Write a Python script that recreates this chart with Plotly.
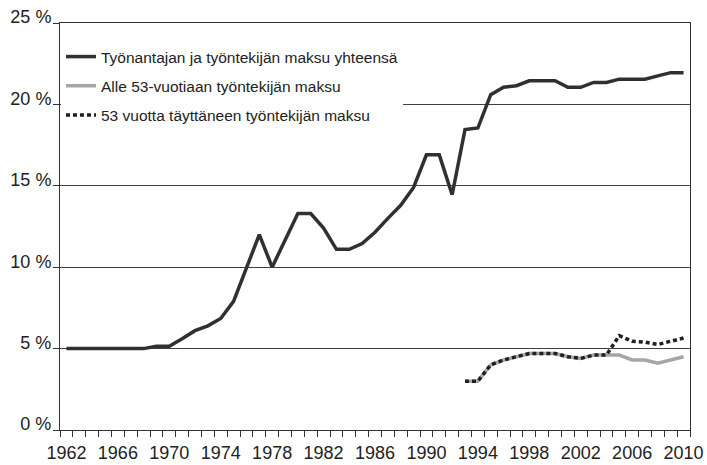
import plotly.graph_objects as go

years = list(range(1962, 2011))

total = [5.0, 5.0, 5.0, 5.0, 5.0, 5.0, 5.0, 5.15, 5.15, 5.6, 6.1, 6.4, 6.85, 7.9,
         9.95, 12.0, 10.0, 11.7, 13.3, 13.3, 12.4, 11.1, 11.1, 11.45, 12.15, 13.0,
         13.8, 14.9, 16.9, 16.9, 14.45, 18.45, 18.55, 20.6, 21.05, 21.15, 21.45,
         21.45, 21.45, 21.05, 21.05, 21.35, 21.35, 21.55, 21.55, 21.55, 21.75,
         21.95, 21.95]

sub_years = list(range(1993, 2011))
under53 = [3.0, 3.0, 4.0, 4.3, 4.5, 4.7, 4.7, 4.7, 4.5, 4.4, 4.6, 4.6,
           4.6, 4.3, 4.3, 4.1, 4.3, 4.5]
over53 = [3.0, 3.0, 4.0, 4.3, 4.5, 4.7, 4.7, 4.7, 4.5, 4.4, 4.6, 4.6,
          5.8, 5.45, 5.4, 5.25, 5.45, 5.65]

names = ["Työnantajan ja työntekijän maksu yhteensä",
         "Alle 53-vuotiaan työntekijän maksu",
         "53 vuotta täyttäneen työntekijän maksu"]

y_ticks = [0, 5, 10, 15, 20, 25]
x_label_years = list(range(1962, 2011, 4))

FONT = "Liberation Sans, Arial, sans-serif"

fig = go.Figure()
fig.add_trace(go.Scatter(x=years, y=total, mode="lines", name=names[0],
                         legendgroup="a",
                         line=dict(color="#303030", width=3.5)))
fig.add_trace(go.Scatter(x=sub_years, y=under53, mode="lines", name=names[1],
                         legendgroup="b",
                         line=dict(color="#a6a6a6", width=3.5)))
fig.add_trace(go.Scatter(x=sub_years, y=over53, mode="lines", name=names[2],
                         legendgroup="c",
                         line=dict(color="#202020", width=3.5, dash="4px,3px")))

fig.update_layout(
    width=707, height=465,
    margin=dict(l=60, r=17, t=23, b=35, autoexpand=False),
    paper_bgcolor="white", plot_bgcolor="white",
    font=dict(family=FONT, color="#222222", size=18),
    showlegend=True,
    legend=dict(xref="container", yref="container",
                x=61 / 707, y=1 - 40 / 465, xanchor="left", yanchor="top",
                bgcolor="white", borderwidth=0,
                font=dict(family=FONT, size=15.5, color="#222222"),
                tracegroupgap=6, traceorder="grouped"),
    xaxis=dict(range=[1961.5, 2010.5], tickvals=x_label_years,
               ticktext=[str(v) for v in x_label_years],
               ticks="outside", ticklen=6, tickcolor="rgba(0,0,0,0)",
               showgrid=False, zeroline=False, automargin=False,
               showline=True, linecolor="#333333", linewidth=1, mirror=True,
               tickfont=dict(size=18),
               minor=dict(ticks="outside", ticklen=6, tickcolor="#333333",
                          tick0=1961.5, dtick=1, showgrid=False)),
    yaxis=dict(range=[0, 25], tickvals=y_ticks,
               ticktext=[f"{v} %" for v in y_ticks],
               ticks="outside", ticklen=6, tickcolor="#333333",
               showgrid=True, gridcolor="#404040", gridwidth=1,
               zeroline=False, automargin=False, ticklabelshift=-6,
               ticklabelstandoff=-2,
               showline=True, linecolor="#333333", linewidth=1, mirror=True,
               tickfont=dict(size=18)),
)

fig.write_html("out.html",
               config={"displayModeBar": False},
               post_script="document.body.style.margin='0';"
                           "document.body.style.overflow='hidden';")
